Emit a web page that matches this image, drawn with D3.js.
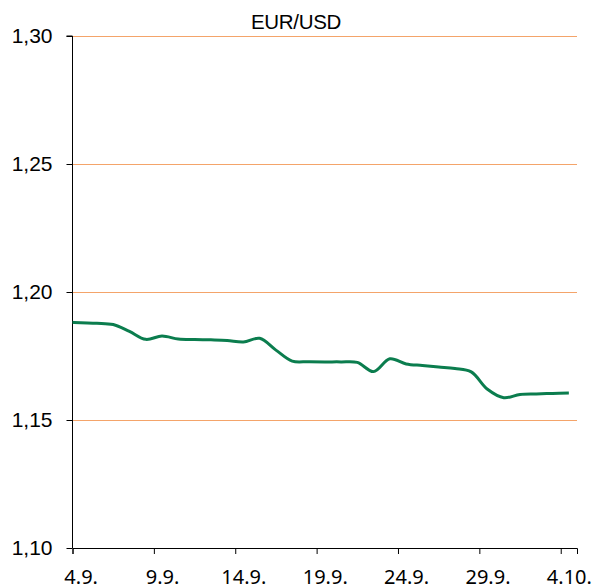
<!DOCTYPE html>
<html lang="en">

<head>
  <title>EUR/USD</title>
  <meta charset="UTF-8">
  <style>
    body {
      margin: 0;
      background: #fff;
    }
  </style>
</head>

<body>
  <div id="container"></div>
  <script src="https://cdn.jsdelivr.net/npm/d3@7"></script>
  <script>
    // day offsets from 4.9. (-1 = 3.9., drawn under the axis and clipped)
    const days = [-1, 0, 1, 2, 3, 4, 5, 6, 7, 8, 9, 10, 11, 12, 13, 14, 15,
      16, 17, 18, 19, 20, 21, 22, 23, 24, 25, 26, 27, 28, 29, 30];
    const rates = [1.1883, 1.1880, 1.1878, 1.1873, 1.1846, 1.1815, 1.1828, 1.1816,
      1.1814, 1.1813, 1.1811, 1.1805, 1.1819, 1.1773, 1.1730, 1.1728, 1.1727,
      1.1727, 1.1725, 1.1689, 1.1739, 1.1719, 1.1713, 1.1707, 1.1701, 1.1688,
      1.1620, 1.1587, 1.1600, 1.1602, 1.1604, 1.1605];
    const tickDays = [0, 5, 10, 15, 20, 25, 30];
    const tickLabels = ['4.9.', '9.9.', '14.9.', '19.9.', '24.9.', '29.9.', '4.10.'];
    const yTicks = [1.10, 1.15, 1.20, 1.25, 1.30];

    const size = { w: 593, h: 585 };
    const plot = { left: 72.5, right: 577, top: 36, bottom: 548 };

    const x = d3.scaleLinear()
      .domain([0, 31])
      .range([plot.left, plot.right]);

    const y = d3.scaleLinear()
      .domain([1.10, 1.30])
      .range([plot.bottom, plot.top]);

    const fmt = d3.formatLocale({ decimal: ',', thousands: '.', grouping: [3], currency: ['', ''] }).format('.2f');

    const svg = d3.select('#container')
      .append('svg')
      .attr('width', size.w)
      .attr('height', size.h);

    svg.append('defs').append('clipPath')
      .attr('id', 'plotClip')
      .append('rect')
      .attr('x', plot.left)
      .attr('y', 0)
      .attr('width', plot.right - plot.left)
      .attr('height', size.h);

    // gridlines
    svg.append('g')
      .selectAll('line')
      .data(yTicks.filter(d => d > 1.10))
      .enter().append('line')
      .attr('x1', plot.left)
      .attr('x2', plot.right)
      .attr('y1', d => Math.round(y(d)) + 0.5)
      .attr('y2', d => Math.round(y(d)) + 0.5)
      .style('stroke', '#f4a46a')
      .style('stroke-width', 1);

    // y axis
    const yAxis = svg.append('g')
      .attr('transform', `translate(${plot.left},0)`)
      .call(d3.axisLeft(y).tickValues(yTicks).tickSize(6).tickPadding(14).tickFormat(fmt));
    yAxis.selectAll('text')
      .style('font-family', '"Liberation Sans", Arial, sans-serif')
      .style('font-size', '21px')
      .style('fill', '#000');

    // x axis, labels sit half a day to the right of their tick
    const xAxis = svg.append('g')
      .attr('transform', `translate(0,${plot.bottom})`)
      .call(d3.axisBottom(x).tickValues(tickDays).tickSize(6).tickFormat((d, i) => tickLabels[i]));
    xAxis.selectAll('text')
      .attr('x', x(0.5) - x(0))
      .attr('y', 0)
      .attr('dy', 0)
      .attr('transform', 'translate(0,36)')
      .style('font-family', '"Noto Sans", "Open Sans", sans-serif')
      .style('font-size', '20px')
      .style('fill', '#000');

    svg.selectAll('.domain, .tick line')
      .style('stroke', '#000')
      .style('stroke-width', 1);
    yAxis.select('.domain').attr('d', `M-6,${plot.top}H0V${plot.bottom}`);

    // line
    const line = d3.line()
      .x((d, i) => x(days[i] + 0.5))
      .y(d => y(d))
      .curve(d3.curveCatmullRom);

    svg.append('path')
      .datum(rates)
      .attr('clip-path', 'url(#plotClip)')
      .attr('d', line)
      .style('fill', 'none')
      .style('stroke', '#0b7d4e')
      .style('stroke-width', 3)
      .style('stroke-linejoin', 'round');

    // title
    svg.append('text')
      .attr('x', 296)
      .attr('y', 29)
      .attr('text-anchor', 'middle')
      .style('font-family', '"Liberation Sans", Arial, sans-serif')
      .style('font-size', '20.5px')
      .style('letter-spacing', '-0.3px')
      .text('EUR/USD');
  </script>
</body>

</html>
